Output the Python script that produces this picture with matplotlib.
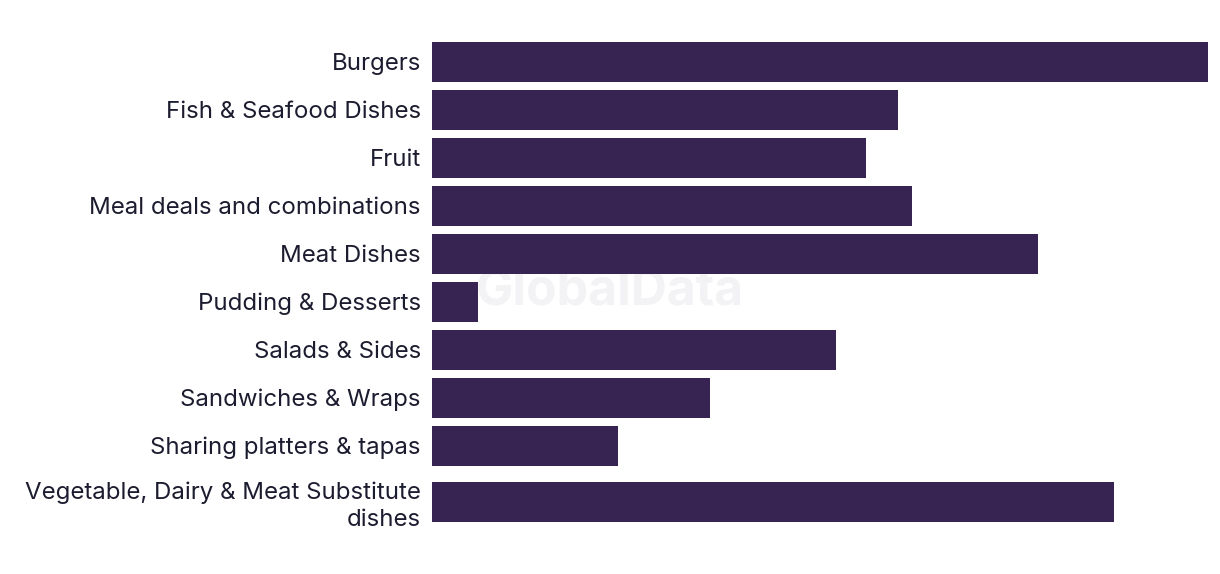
import matplotlib
matplotlib.use("Agg")
import matplotlib.pyplot as plt
import numpy as np

categories = [
    "Burgers",
    "Fish & Seafood Dishes",
    "Fruit",
    "Meal deals and combinations",
    "Meat Dishes",
    "Pudding & Desserts",
    "Salads & Sides",
    "Sandwiches & Wraps",
    "Sharing platters & tapas",
    "Vegetable, Dairy & Meat Substitute\ndishes",
]
values = [7.76, 4.66, 4.34, 4.80, 6.06, 0.46, 4.04, 2.78, 1.86, 6.82]

BAR_COLOR = "#372453"
TEXT_COLOR = "#1c1c30"

plt.rcParams['font.family'] = ['Inter', 'DejaVu Sans']

fig = plt.figure(figsize=(12.2, 5.74), dpi=100)
ax = fig.add_axes([432/1220, 1-533.5/574, (1208-432)/1220, (533.5-37.5)/574])
ax.set_facecolor("none")

# band heights depend on number of label lines
bands = [48 + 16*(c.count("\n")) for c in categories]
edges = np.concatenate([[0], np.cumsum(bands)])
centers = (edges[:-1] + edges[1:]) / 2

ax.barh(centers, values, height=40, color=BAR_COLOR, zorder=2)
ax.set_ylim(edges[-1], 0)
ax.set_xlim(0, max(values))
ax.set_yticks(centers)
labels = ax.set_yticklabels(categories, fontsize=17.3, color=TEXT_COLOR, linespacing=1.3)
ax.tick_params(axis='y', length=0, pad=8)
ax.set_xticks([])
for s in ax.spines.values():
    s.set_visible(False)

ax.text(0.5, 1-305/574, "GlobalData", ha="center", va="baseline", fontsize=36,
        fontweight="bold", color="#f3f3f5", zorder=0.5, transform=fig.transFigure)

fig.savefig("out.png", dpi=100)
